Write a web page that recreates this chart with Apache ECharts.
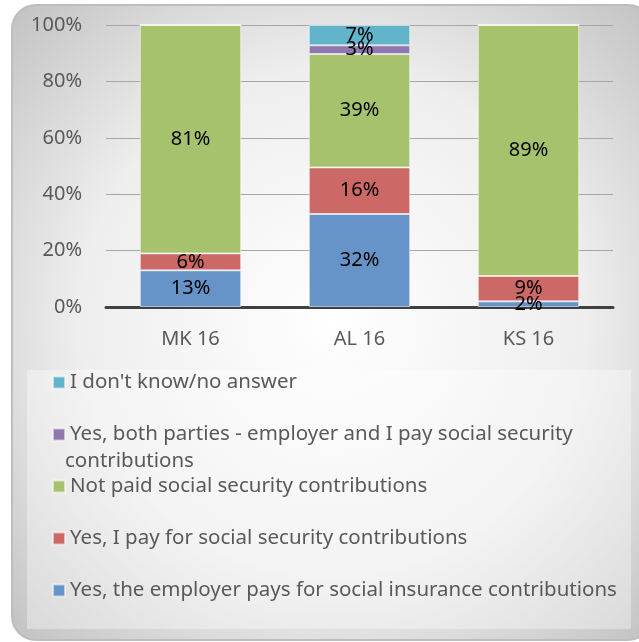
<!DOCTYPE html>
<html>
<head>
<meta charset="utf-8">
<script src="https://cdn.jsdelivr.net/npm/echarts@6/dist/echarts.min.js"></script>
<style>
  html, body { margin: 0; padding: 0; background: #ffffff; }
  #chart { width: 639px; height: 642px; }
</style>
</head>
<body>
<div id="chart"></div>
<script>
// ---- data ----
const categories = ['MK 16', 'AL 16', 'KS 16'];
const employerPays = [13, 32, 2];      // Yes, the employer pays for social insurance contributions
const selfPays = [6, 16, 9];           // Yes, I pay for social security contributions
const notPaid = [81, 39, 89];          // Not paid social security contributions
const bothParties = [0, 3, 0];         // Yes, both parties - employer and I pay social security contributions
const dontKnow = [0, 7, 0];            // I don't know/no answer
const yTicks = [0, 20, 40, 60, 80, 100];

const seriesNames = [
  'Yes, the employer pays for social insurance contributions',
  'Yes, I pay for social security contributions',
  'Not paid social security contributions',
  'Yes, both parties - employer and I pay social security contributions',
  "I don't know/no answer"
];
const seriesValues = [employerPays, selfPays, notPaid, bothParties, dontKnow];
const colors = ['#6794c8', '#cc6866', '#a6c26c', '#8f78ae', '#62b4cb'];

const totals = categories.map((c, i) => seriesValues.reduce((s, arr) => s + arr[i], 0));

const FONT = 'Noto Sans';
const LEGEND_SIZE = 20.5;
const chart = echarts.init(document.getElementById('chart'), null, { renderer: 'canvas' });

const series = seriesNames.map((name, k) => ({
  name: name,
  type: 'bar',
  stack: 'total',
  barWidth: '60%',
  itemStyle: { color: colors[k], borderColor: 'rgba(255,255,255,0.55)', borderWidth: 1 },
  label: {
    show: true,
    position: 'inside',
    color: '#000000',
    fontFamily: FONT,
    fontSize: 20,
    formatter: p => (p.data.raw > 0 ? p.data.raw + '%' : '')
  },
  emphasis: { disabled: true },
  data: seriesValues[k].map((v, i) => ({ value: v / totals[i] * 100, raw: v }))
}));

const legendOrder = [seriesNames[4], seriesNames[3], seriesNames[2], seriesNames[1], seriesNames[0]];

chart.setOption({
  animation: false,
  backgroundColor: '#ffffff',
  color: colors,
  graphic: [
    {
      type: 'rect',
      z: -100,
      shape: { x: 12, y: 5, width: 640, height: 635, r: 24 },
      style: {
        fill: {
          type: 'radial', x: 0.5, y: 0.5, r: 0.72, global: false,
          colorStops: [
            { offset: 0, color: '#ffffff' },
            { offset: 0.55, color: '#eeeeee' },
            { offset: 1, color: '#c0c0c0' }
          ]
        },
        stroke: '#bdbdbd',
        lineWidth: 2
      }
    },
    {
      type: 'rect',
      z: -90,
      shape: { x: 27, y: 370, width: 604, height: 259 },
      style: { fill: 'rgba(255,255,255,0.35)' }
    },
    {
      type: 'text',
      z: 10,
      left: 65,
      top: 451,
      style: { text: 'contributions', fill: '#595959', font: LEGEND_SIZE + 'px "' + FONT + '"' }
    }
  ],
  grid: { left: 106, right: 26, top: 25, bottom: 335, containLabel: false },
  xAxis: {
    type: 'category',
    data: categories,
    axisLine: { show: true, lineStyle: { color: '#404040', width: 3 } },
    axisTick: { show: false },
    axisLabel: { color: '#595959', fontFamily: FONT, fontSize: 20, margin: 22 }
  },
  yAxis: {
    type: 'value',
    min: yTicks[0],
    max: yTicks[yTicks.length - 1],
    interval: yTicks[1] - yTicks[0],
    axisLine: { show: false },
    axisTick: { show: false },
    axisLabel: { color: '#595959', fontFamily: FONT, fontSize: 20, margin: 24, formatter: '{value}%' },
    splitLine: { show: true, lineStyle: { color: '#a6a6a6', width: 1 } }
  },
  legend: {
    orient: 'vertical',
    left: 47,
    top: 367,
    itemWidth: 12,
    itemHeight: 12,
    itemGap: 31,
    icon: 'rect',
    selectedMode: false,
    data: legendOrder,
    formatter: name => (name === seriesNames[3] ? 'Yes, both parties - employer and I pay social security' : name),
    textStyle: { color: '#595959', fontFamily: FONT, fontSize: LEGEND_SIZE, lineHeight: 20 }
  },
  series: series
});
</script>
</body>
</html>
